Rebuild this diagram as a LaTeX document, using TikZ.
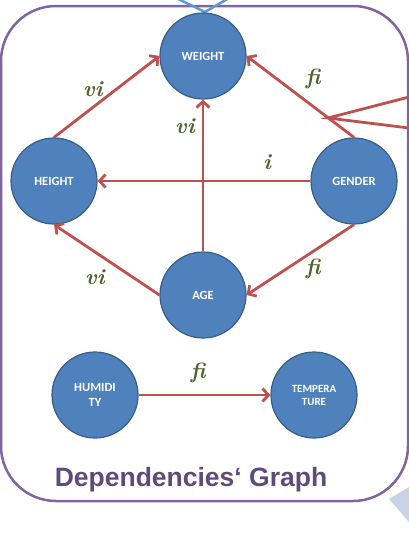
\documentclass[tikz,border=0pt]{standalone}
\usepackage{fontspec}
\newfontfamily\varfont{Carlito}
\newfontfamily\titlefont{Liberation Sans}
\usetikzlibrary{arrows.meta}
\definecolor{varblue}{HTML}{4F81BD}
\definecolor{varedge}{HTML}{385D8A}
\definecolor{depred}{HTML}{C0504D}
\definecolor{boxpurple}{HTML}{8064A2}
\definecolor{titlepurple}{HTML}{604A7B}
\definecolor{lblgreen}{HTML}{4F6228}
\definecolor{lineblue}{HTML}{5B9BD5}
\definecolor{shadeblue}{HTML}{C9D3E8}

\begin{document}
\begin{tikzpicture}[x=1pt,y=-1pt]
                \tikzstyle{var}= [circle,fill=varblue,draw=varedge,line width=1.2pt,minimum size=86pt,inner sep=0pt,text=white,align=center,font=\varfont\bfseries\fontsize{12.5}{15}\selectfont]
                \tikzstyle{dep}= [-{Straight Barb[length=6pt,width=13pt]},depred,line width=2.8pt]
                \tikzstyle{lbl}= [text=lblgreen,font=\bfseries\itshape\fontsize{22}{22}\selectfont]
                \useasboundingbox (0,0) rectangle (409,533);

                % frame and outside bits
                \fill[shadeblue] (389,499) -- (409,487) -- (409,522) -- cycle;
                \coordinate (fork) at (328,118);
                \coordinate (outA) at (409,97);
                \coordinate (outB) at (409,128);
                \draw[depred,line width=2.8pt] (outA) -- (fork) -- (outB);
                \draw[boxpurple,line width=2.5pt,rounded corners=55pt] (1,6) rectangle (408,501);
                \coordinate (topL) at (176,-2);
                \coordinate (topM) at (205,12);
                \coordinate (topR) at (229,-2);
                \draw[lineblue,line width=2.5pt] (topL) -- (topM) -- (topR);

                \node[var] (weight) at (203,56) {WEIGHT};
                \node[var] (height) at (54,181) {HEIGHT};
                \node[var] (gender) at (354,181) {GENDER};
                \node[var] (age) at (203,295) {AGE};
                \node[var] (humidity) at (95,395) {HUMIDI\\TY};
                \node[var,font=\varfont\bfseries\fontsize{11}{13}\selectfont] (temperature) at (314,395) {TEMPERA\\TURE};

                \path [dep] (height.north) edge (weight.west)
                            (age) edge (weight)
                            (gender.north) edge (weight.east)
                            (gender) edge (height)
                            (age.west) edge (height.south)
                            (gender.south) edge (age.east)
                            (humidity) edge (temperature);

                \node[lbl] (l1) at (93,89) {vi};
                \node[lbl] (l2) at (185,126) {vi};
                \node[lbl] (l3) at (313,79) {fi};
                \node[lbl] (l4) at (267,162) {i};
                \node[lbl] (l5) at (313,269) {fi};
                \node[lbl] (l6) at (95,277) {vi};
                \node[lbl] (l7) at (198,373) {fi};

                \node[text=titlepurple,font=\titlefont\bfseries\fontsize{26.5}{30}\selectfont,anchor=base] (title) at (191,486) {Dependencies‘ Graph};
\end{tikzpicture}
\end{document}
